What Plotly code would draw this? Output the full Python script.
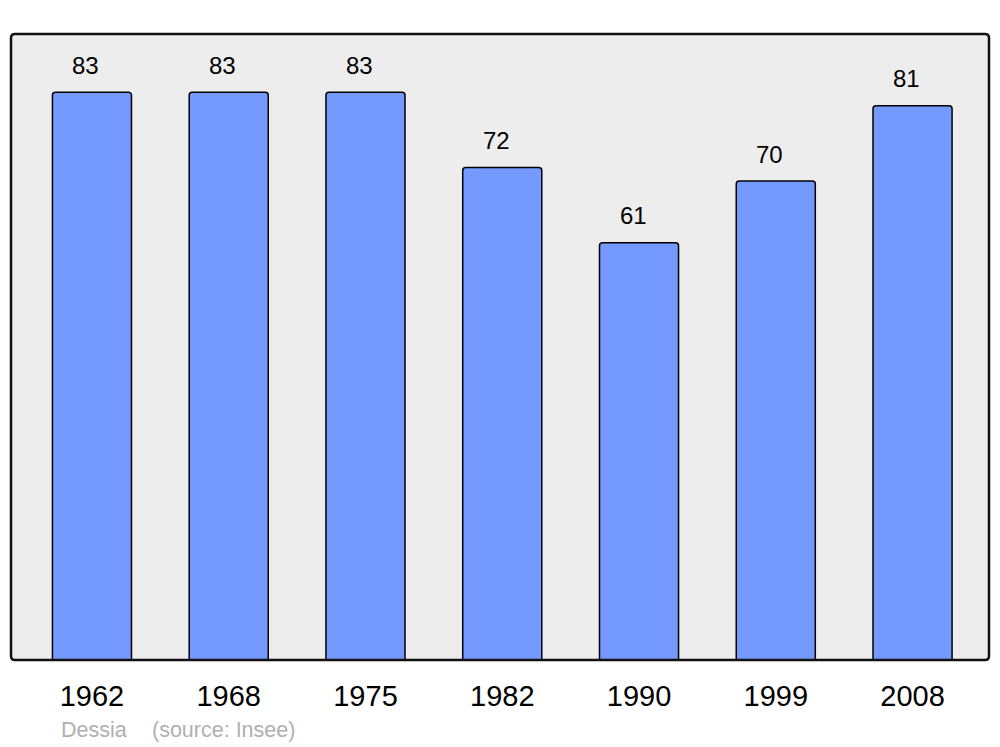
import plotly.graph_objects as go

years = ["1962", "1968", "1975", "1982", "1990", "1999", "2008"]
population = [83, 83, 83, 72, 61, 70, 81]

W, H = 1000, 747
ml, mr, mt, mb = 11, 11, 34, 87
pw, ph = W - ml - mr, H - mt - mb
FONT = "Liberation Sans, Arial, sans-serif"

fig = go.Figure()
fig.add_trace(go.Bar(
    x=years, y=population,
    width=0.578,
    marker=dict(color="#7499ff", line=dict(color="#000000", width=1.5), cornerradius=3),
    hoverinfo="x+y",
))

annotations = []
for i, v in enumerate(population):
    annotations.append(dict(x=i, y=v, text=str(v), showarrow=False, xref="x", yref="y",
                            yanchor="middle", yshift=27, xshift=-6,
                            font=dict(family=FONT, size=24, color="#000")))

foot_font = dict(family=FONT, size=21.5, color="#b0b0b0")
fy = -(730 - (mt + ph)) / ph
annotations.append(dict(x=(94 - ml) / pw, y=fy, xref="paper", yref="paper",
                        text="Dessia", showarrow=False, font=foot_font,
                        xanchor="center", yanchor="middle"))
annotations.append(dict(x=(223 - ml) / pw, y=fy, xref="paper", yref="paper",
                        text="(source: Insee)", showarrow=False, font=foot_font,
                        xanchor="center", yanchor="middle"))

# rounded frame
rx, ry = 4 / pw, 4 / ph
path = (f"M {rx},0 L {1-rx},0 Q 1,0 1,{ry} L 1,{1-ry} Q 1,1 {1-rx},1 "
        f"L {rx},1 Q 0,1 0,{1-ry} L 0,{ry} Q 0,0 {rx},0 Z")

fig.update_layout(
    width=W, height=H,
    margin=dict(l=ml, r=mr, t=mt, b=mb),
    paper_bgcolor="#ffffff", plot_bgcolor="#ededed",
    showlegend=False,
    font=dict(family=FONT, color="#000"),
    annotations=annotations,
    shapes=[dict(type="path", path=path, xref="paper", yref="paper",
                 line=dict(color="#111", width=2.5), layer="above")],
    xaxis=dict(type="category", range=[-0.592, 6.559], showgrid=False, zeroline=False,
               showline=False, ticks="outside", ticklen=10, tickcolor="rgba(0,0,0,0)",
               tickfont=dict(size=29, color="#000")),
    yaxis=dict(range=[0, 91.5], showgrid=False, zeroline=False, showticklabels=False,
               showline=False, ticks=""),
)

fig.write_html("out.html", config={"displayModeBar": False},
               post_script="document.body.style.margin='0';document.body.style.padding='0';")
